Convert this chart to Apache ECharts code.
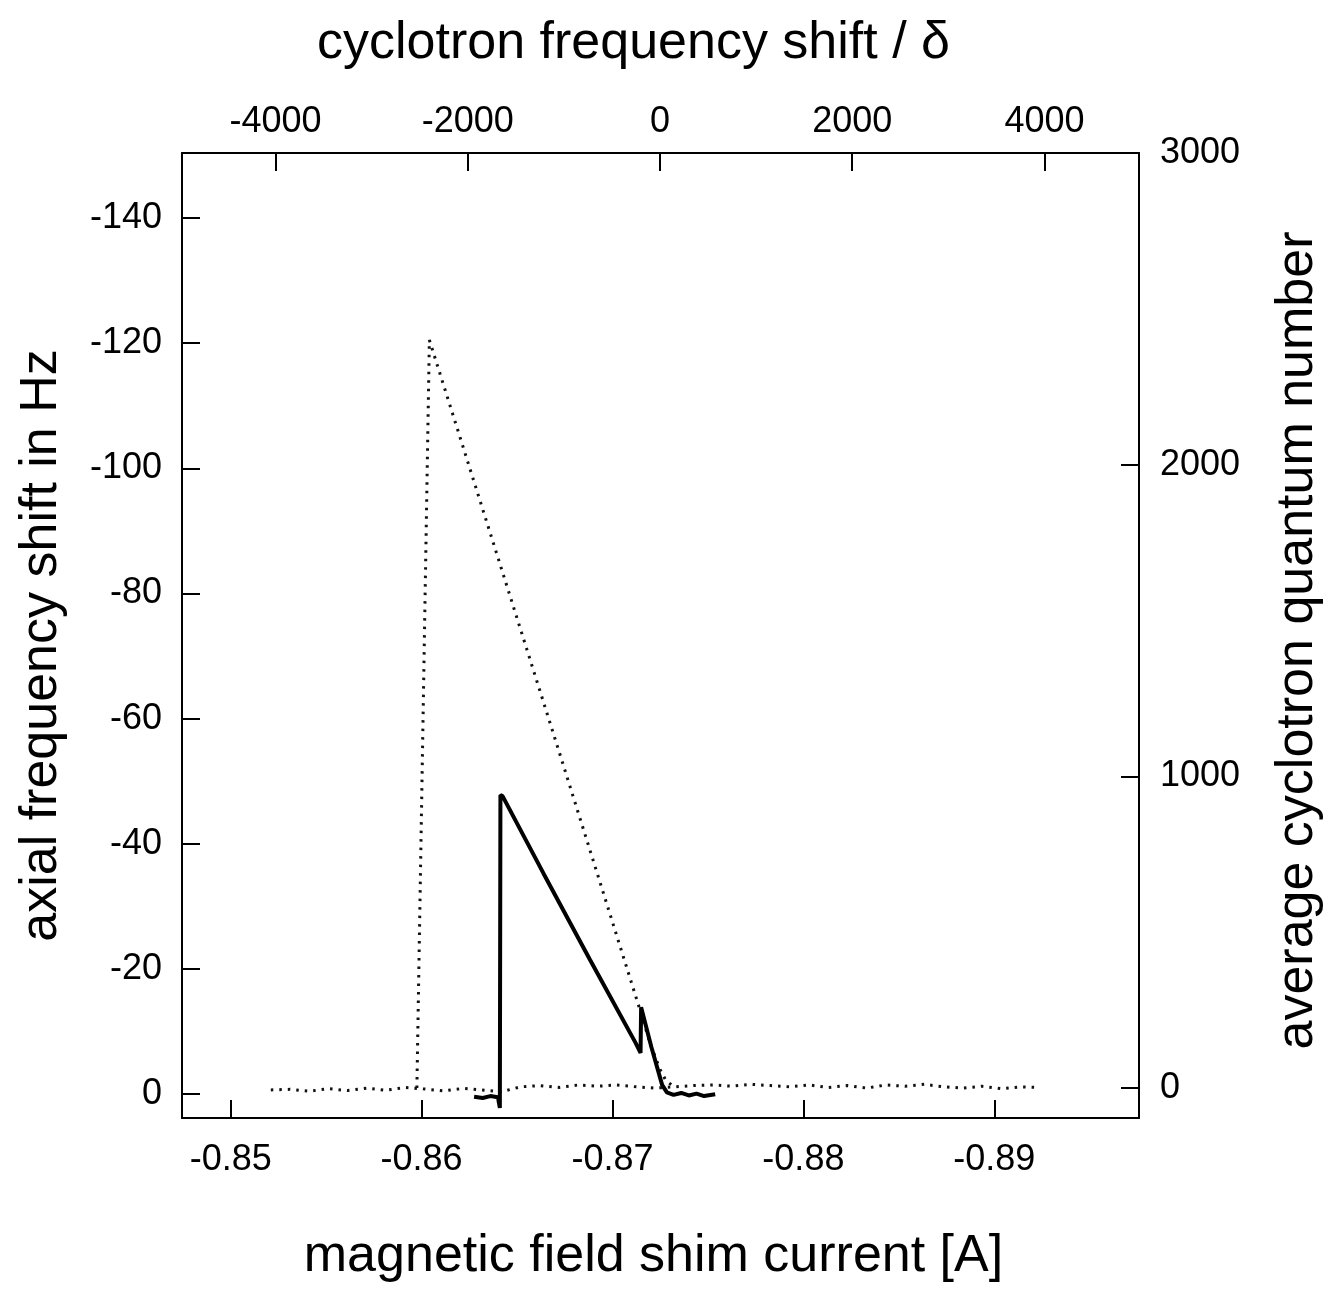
<!DOCTYPE html>
<html>
<head>
<meta charset="utf-8">
<script src="https://cdn.jsdelivr.net/npm/echarts@6/dist/echarts.min.js"></script>
<style>
html,body{margin:0;padding:0;background:#fff;}
#chart{width:1332px;height:1292px;}
</style>
</head>
<body>
<div id="chart"></div>
<script>
// ---- data ----
// bottom axis ticks (shim current, A) and left axis ticks (axial shift, Hz)
var currentTicks = [-0.85, -0.86, -0.87, -0.88, -0.89];
var axialTicks = [-140, -120, -100, -80, -60, -40, -20, 0];
// top axis ticks (cyclotron frequency shift / delta) and right axis ticks (quantum number)
var shiftTicks = [-4000, -2000, 0, 2000, 4000];
var quantumTicks = [0, 1000, 2000, 3000];

// measured axial frequency shift [current A, shift Hz]
var measuredCurrent = [-0.86275, -0.86320, -0.86360, -0.86400, -0.86408, -0.86410, -0.86413, -0.86425,
  -0.86640, -0.86880, -0.87121, -0.87147, -0.87150,
  -0.87204, -0.87260, -0.87285, -0.87320, -0.87360, -0.87400, -0.87440, -0.87480, -0.87538];
var measuredShift = [0.4, 0.6, 0.3, 0.5, 0.5, 2.2, -47.8, -47.6,
  -35.2, -21.6, -8.2, -6.6, -13.9,
  -7.5, -1.5, -0.3, 0.1, -0.2, 0.2, -0.1, 0.3, 0.0];

// computed average cyclotron quantum number: excitation triangle [shift/delta, n]
var triangleShift = [-2530, -2400, -1000, -230, -100, 0, 60, 120];
var triangleN = [0, 2400, 1030, 272, 140, 60, 25, 10];

// baseline of quantum number [shift/delta, n]
var baselineShift = [-4050, -3850, -3650, -3450, -3250, -3050, -2850, -2650, -2450, -2250, -2050,
  -1850, -1650, -1450, -1250, -1050, -850, -650, -450, -250, -50, 150, 350, 550, 750, 950,
  1150, 1350, 1550, 1750, 1950, 2150, 2350, 2550, 2750, 2950, 3150, 3350, 3550, 3750, 3950];
var baselineN = [-6, -4, -10, -2, -8, 0, -7, 2, -3, -9, -1,
  -6, -12, 4, 8, 2, 10, 6, 10, 4, 0, 4, 8, 10, 6, 12,
  8, 4, 10, 2, 8, 0, 10, 6, 12, 4, 0, 6, -2, 4, 2];

function zip(a, b) { return a.map(function (v, i) { return [v, b[i]]; }); }

var FONT = '"Liberation Sans", Arial, sans-serif';
var lineSt = { color: '#000', width: 2 };
var labelSt = { color: '#000', fontSize: 36, fontFamily: FONT };
var nameSt = { color: '#000', fontSize: 52, fontFamily: FONT };
function plain(v) { return String(v); }

var chart = echarts.init(document.getElementById('chart'), null, { renderer: 'canvas' });
chart.setOption({
  animation: false,
  backgroundColor: '#fff',
  grid: { left: 182, right: 189, top: 153, bottom: 174 },
  xAxis: [
    {
      type: 'value', position: 'bottom', inverse: true,
      min: -0.89758, max: -0.84745,
      name: 'magnetic field shim current [A]', nameLocation: 'middle', nameGap: 113,
      nameTextStyle: Object.assign({}, nameSt, { padding: [0, 14, 0, 0] }),
      axisLine: { onZero: false, lineStyle: lineSt },
      axisTick: { inside: true, length: 18, lineStyle: lineSt, customValues: currentTicks },
      axisLabel: Object.assign({}, labelSt, { margin: 24, customValues: currentTicks,
        formatter: function (v) { return v.toFixed(2); } }),
      splitLine: { show: false }
    },
    {
      type: 'value', position: 'top',
      min: -4974, max: 4984,
      name: 'cyclotron frequency shift / δ', nameLocation: 'middle', nameGap: 83,
      nameTextStyle: Object.assign({}, nameSt, { padding: [0, 54, 0, 0] }),
      axisLine: { onZero: false, lineStyle: lineSt },
      axisTick: { inside: true, length: 18, lineStyle: lineSt, customValues: shiftTicks },
      axisLabel: Object.assign({}, labelSt, { margin: 13, customValues: shiftTicks, formatter: plain }),
      splitLine: { show: false }
    }
  ],
  yAxis: [
    {
      type: 'value', position: 'left', inverse: true,
      min: -150.4, max: 3.8,
      name: 'axial frequency shift in Hz', nameLocation: 'middle', nameGap: 114, nameRotate: 90,
      nameTextStyle: Object.assign({}, nameSt, { padding: [0, 20, 0, 0] }),
      axisLine: { onZero: false, lineStyle: lineSt },
      axisTick: { inside: true, length: 18, lineStyle: lineSt, customValues: axialTicks },
      axisLabel: Object.assign({}, labelSt, { margin: 20, customValues: axialTicks, formatter: plain }),
      splitLine: { show: false }
    },
    {
      type: 'value', position: 'right',
      min: -96, max: 3000,
      name: 'average cyclotron quantum number', nameLocation: 'middle', nameGap: 133, nameRotate: 90,
      nameTextStyle: Object.assign({}, nameSt, { padding: [0, 10, 0, 0] }),
      axisLine: { onZero: false, lineStyle: lineSt },
      axisTick: { inside: true, length: 18, lineStyle: lineSt, customValues: quantumTicks },
      axisLabel: Object.assign({}, labelSt, { margin: 21, customValues: quantumTicks, formatter: plain }),
      splitLine: { show: false }
    }
  ],
  series: [
    {
      name: 'quantum number baseline', type: 'line', xAxisIndex: 1, yAxisIndex: 1,
      data: zip(baselineShift, baselineN), showSymbol: false, symbol: 'none',
      lineStyle: { color: '#111', width: 3, type: [2.5, 6] }
    },
    {
      name: 'quantum number', type: 'line', xAxisIndex: 1, yAxisIndex: 1,
      data: zip(triangleShift, triangleN), showSymbol: false, symbol: 'none',
      lineStyle: { color: '#111', width: 3, type: [2.5, 6] }
    },
    {
      name: 'axial shift', type: 'line', xAxisIndex: 0, yAxisIndex: 0,
      data: zip(measuredCurrent, measuredShift), showSymbol: false, symbol: 'none',
      lineStyle: { color: '#000', width: 4 }
    }
  ]
});
</script>
</body>
</html>
